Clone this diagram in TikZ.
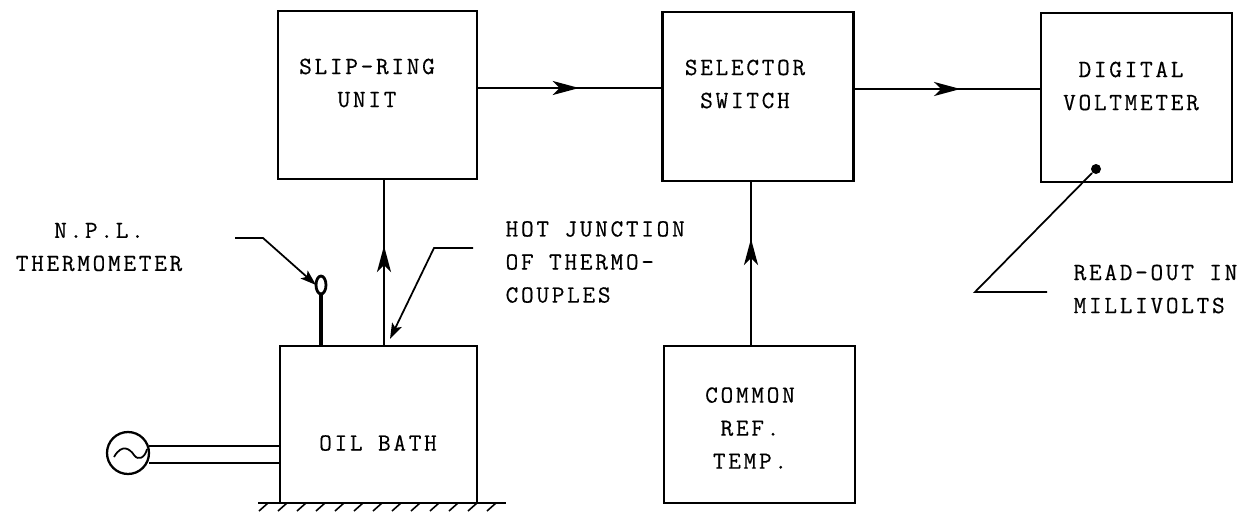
\documentclass[tikz,border=0pt]{standalone}
\usepackage{fontspec}
\setmonofont{Latin Modern Mono}[LetterSpace=11,FakeBold=0.4]
\usetikzlibrary{arrows.meta,decorations.markings,shapes.geometric,calc}
\tikzset{every picture/.style={line width=0.75pt}}
\tikzset{
    unitbox/.style={draw, line width=1.2pt, inner sep=0pt, outer sep=0pt},
    typed/.style={font=\ttfamily\fontsize{14}{18.8}\selectfont, inner sep=0pt, align=center},
    flow/.style={line width=1.1pt},
    flowmark/.style={postaction={decorate}, decoration={markings,
        mark=at position #1 with {\arrow{Stealth[length=15pt,width=8pt,inset=4pt]}}}},
    leader/.style={line width=1pt, -{Stealth[length=9pt,width=6pt,inset=2pt]}},
}

\begin{document}
\begin{tikzpicture}[x=0.02cm,y=-0.02cm]
    \useasboundingbox (0,0) rectangle (1252,511);

    % main units
    \node[unitbox, minimum width=3.98cm, minimum height=3.36cm] (slip) at (377.5,95) {};
    \node[unitbox, minimum width=3.82cm, minimum height=3.38cm] (selector) at (758,96.5) {};
    \node[unitbox, minimum width=3.82cm, minimum height=3.38cm] (voltmeter) at (1136.5,97.5) {};
    \node[unitbox, minimum width=3.94cm, minimum height=3.14cm] (oil) at (378.5,424.5) {};
    \node[unitbox, minimum width=3.82cm, minimum height=3.14cm] (common) at (759.5,424.5) {};

    % texts inside the units
    \node[typed] (sliptext) at (367,83) {SLIP-RING\\UNIT};
    \node[typed] (selectortext) at (745,84) {SELECTOR\\SWITCH};
    \node[typed] (voltmetertext) at (1131,86) {DIGITAL\\VOLTMETER};
    \node[typed] (oiltext) at (378,443) {OIL BATH};
    \node[typed] (commontext) at (750,428) {COMMON\\REF.\\TEMP.};

    % outside labels
    \node[typed] (npltext) at (99,247) {N.P.L.\\THERMOMETER};
    \node[typed, align=left, anchor=west] (hottext) at (505,262) {HOT JUNCTION\\OF THERMO-\\COUPLES};
    \node[typed, align=left, anchor=west] (readtext) at (1073,289) {READ-OUT IN\\MILLIVOLTS};

    % signal path
    \draw[flow, flowmark=0.55] (slip.east |- 0,88) -- (selector.west |- 0,88);
    \draw[flow, flowmark=0.57] (selector.east |- 0,89) -- (voltmeter.west |- 0,89);
    \draw[flow, flowmark=0.6] (oil.north -| 384,0) -- (slip.south -| 384,0);
    \draw[flow, flowmark=0.65] (common.north -| 751,0) -- (selector.south -| 751,0);

    % thermometer
    \node[draw, ellipse, line width=1.6pt, minimum width=0.2cm, minimum height=0.36cm, inner sep=0pt, outer sep=0pt] (bulb) at (321,285) {};
    \draw[line width=2pt] (oil.north -| bulb) -- (bulb);
    \coordinate (nplstart) at (235,238);
    \coordinate (nplbend) at (263,238);
    \draw[leader] (nplstart) -- (nplbend) -- (bulb.west);

    % hot junction
    \coordinate (hotstart) at (473,248);
    \coordinate (hotbend) at (434,248);
    \coordinate (hotend) at (390,339);
    \draw[leader] (hotstart) -- (hotbend) -- (hotend);

    % read-out
    \node[circle, fill, minimum size=0.2cm, inner sep=0pt] (readdot) at (1096,169) {};
    \coordinate (readbend) at (975,292);
    \coordinate (readend) at (1047,292);
    \draw[line width=1pt] (readdot) -- (readbend) -- (readend);

    % supply
    \node[draw, circle, line width=1.3pt, minimum size=0.84cm, inner sep=0pt, outer sep=0pt] (source) at (128,453) {};
    \draw[line width=1pt] (114,457) .. controls (122,443) and (130,449) .. (134,455)
        .. controls (138,461) and (145,458) .. (147,449);
    \draw[flow] (source.east |- 0,446) -- (oil.west |- 0,446);
    \draw[flow] (source.east |- 0,463) -- (oil.west |- 0,463);

    % ground
    \draw[flow] (258,503) -- (506,503);
    \foreach \x in {268,287,...,500}
        \draw[line width=0.9pt] (\x,503) -- ({\x-9},511);
\end{tikzpicture}
\end{document}
